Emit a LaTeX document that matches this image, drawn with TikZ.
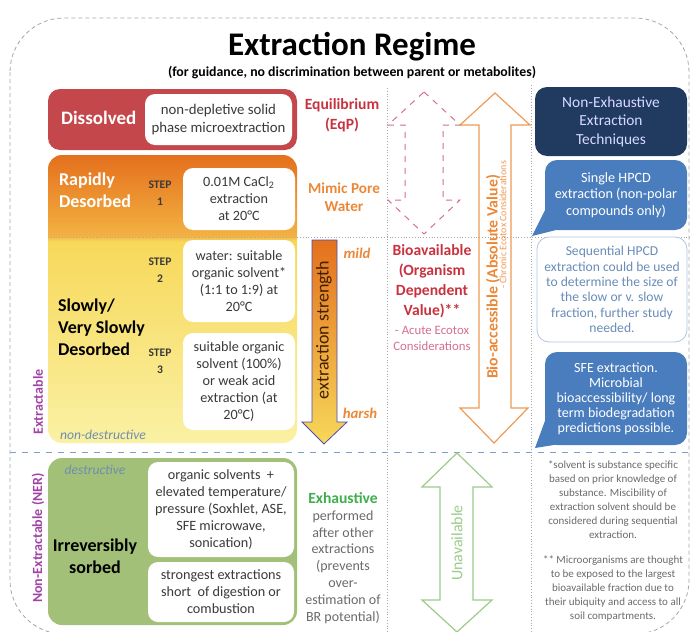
\documentclass[tikz,border=0pt]{standalone}
\usepackage{fontspec}
\setmainfont{Carlito}
\definecolor{dissred}{HTML}{C4474B}
\definecolor{orgdark}{HTML}{E4701D}
\definecolor{orglight}{HTML}{F3B142}
\definecolor{ylwmid}{HTML}{F7D85A}
\definecolor{ylwpale}{HTML}{FAF1A4}
\definecolor{nergreen}{HTML}{A3C079}
\definecolor{txtdark}{HTML}{3A3A3A}
\definecolor{sidepurple}{HTML}{A045A6}
\definecolor{softblue}{HTML}{6F8DB0}
\definecolor{eqred}{HTML}{C8323E}
\definecolor{poreorange}{HTML}{EB8838}
\definecolor{acutepink}{HTML}{D46F8C}
\definecolor{exhgreen}{HTML}{3EAE4C}
\definecolor{notegray}{HTML}{6A6A6A}
\definecolor{bioorange}{HTML}{EE9A55}
\definecolor{unavgreen}{HTML}{9CCB8A}
\definecolor{navy}{HTML}{203A60}
\definecolor{calloutblue}{HTML}{4A7DBE}
\definecolor{seqblue}{HTML}{6A8CB8}
\definecolor{seqedge}{HTML}{B3C5DE}
\definecolor{lineblue}{HTML}{7F9FC8}
\pgfdeclareverticalshading{desorbshade}{100bp}{color(0bp)=(ylwpale); color(25bp)=(ylwpale); color(60bp)=(ylwmid); color(61bp)=(orglight); color(75bp)=(orgdark); color(100bp)=(orgdark)}
\begin{document}
\begin{tikzpicture}[x=0.5pt,y=-0.5pt,
  wbox/.style={fill=white, rounded corners=5pt, align=center, inner sep=0pt, text=txtdark, font=\fontsize{7.1}{8.5}\selectfont},
  steplbl/.style={align=center, text=txtdark, font=\bfseries\fontsize{5.8}{8.5}\selectfont},
  fractionlbl/.style={align=left, anchor=west, font=\bfseries\fontsize{9}{11}\selectfont},
  sidelbl/.style={rotate=90, text=sidepurple, font=\bfseries\fontsize{7}{8}\selectfont},
  regime/.style={align=center, font=\bfseries\fontsize{7.8}{10}\selectfont},
  methodlbl/.style={text=softblue, font=\itshape\fontsize{6.8}{8}\selectfont},
  gridline/.style={gray!70, densely dotted},
  bluebox/.style={fill=calloutblue, rounded corners=6pt, align=center, text=white, inner sep=0pt, font=\fontsize{7.1}{8.2}\selectfont},
  notetext/.style={align=center, text=notegray, font=\fontsize{5.5}{7}\selectfont}]
\useasboundingbox (0,0) rectangle (692,632);

% outer frame
\draw[gray!70, dash pattern=on 2pt off 1.5pt, rounded corners=27pt] (10,18) rectangle (689,634);

\node (title) at (352,47) {\fontsize{16.5}{18}\selectfont\bfseries Extraction Regime};
\node (subtitle) at (352,73) {\fontsize{6.9}{7.5}\selectfont\bfseries (for guidance, no discrimination between parent or metabolites)};

% grid lines
\draw[gridline] (48,237) -- (690,237);
\draw[lineblue, dashed] (10,452) -- (690,452);
\draw[gridline] (387,88) -- (387,632);
\draw[gridline] (531,85) -- (531,632);

% dissolved
\fill[dissred, rounded corners=6pt] (48,89) rectangle (297,150);
\node[fractionlbl, text=white, font=\bfseries\fontsize{9.5}{11}\selectfont] (diss) at (54,118) {Dissolved};
\node[wbox, minimum width=73.5pt, minimum height=25.5pt, font=\fontsize{7.4}{9}\selectfont] (spme) at (218.5,119.5) {non-depletive solid\\phase microextraction};

% rapidly / slowly desorbed
\path[shading=desorbshade, rounded corners=7pt] (48,155) rectangle (297,443);
\draw[gridline] (48,237) -- (297,237);
\node[fractionlbl, text=white] (rapid) at (52,190) {Rapidly\\Desorbed};
\node[steplbl] (s1) at (160,193) {STEP\\1};
\node[wbox, minimum width=56pt, minimum height=31pt] (step1) at (239,199) {0.01M CaCl\textsubscript{2}\\extraction\\at 20°C};
\node[steplbl] (s2) at (160,270) {STEP\\2};
\node[wbox, minimum width=56pt, minimum height=41pt] (step2) at (239,281) {water: suitable\\organic solvent*\\(1:1 to 1:9) at\\20°C};
\node[fractionlbl, text=black] (slow) at (51,327) {Slowly/\\Very Slowly\\Desorbed};
\node[steplbl] (s3) at (160,361) {STEP\\3};
\node[wbox, minimum width=56pt, minimum height=48.5pt] (step3) at (239,381.5) {suitable organic\\solvent (100\%)\\or weak acid\\extraction (at\\20°C)};
\node[methodlbl] (nondest) at (103,435) {non-destructive};

% irreversibly sorbed
\fill[nergreen, rounded corners=7pt] (48,458) rectangle (297,625);
\node[methodlbl] (dest) at (95,470) {destructive};
\node[regime, text=black, font=\bfseries\fontsize{9}{11}\selectfont] (irrev) at (95,556) {Irreversibly\\sorbed};
\node[wbox, minimum width=73pt, minimum height=47.5pt] (ner1) at (221,509.5) {organic solvents\ \ +\\elevated temperature/\\pressure (Soxhlet, ASE,\\SFE microwave,\\sonication)};
\node[wbox, minimum width=73pt, minimum height=30pt] (ner2) at (221,592) {strongest extractions\\short\ \ of digestion or\\combustion};

\node[sidelbl] (extr) at (38,402) {Extractable};
\node[sidelbl] (nonextr) at (38,538) {Non-Extractable (NER)};

% extraction strength
\draw[gray!60!blue, line width=0.4pt, top color=orgdark, bottom color=ylwmid]
  (312,240) -- (337,240) -- (337,422) -- (347,422) -- (324,444) -- (302,422) -- (312,422) -- cycle;
\node[rotate=90, text=black!75!orange, font=\fontsize{9}{10}\selectfont] (strength) at (324,330) {extraction strength};
\node[text=poreorange, font=\itshape\bfseries\fontsize{7.4}{8}\selectfont] (mild) at (357,253) {mild};
\node[text=poreorange, font=\itshape\bfseries\fontsize{7.4}{8}\selectfont] (harsh) at (360,413) {harsh};

\node[regime, text=eqred] (eqp) at (342,115) {Equilibrium\\(EqP)};
\node[regime, text=poreorange, font=\bfseries\fontsize{7.6}{9}\selectfont] (pore) at (344,197) {Mimic Pore\\Water};
\node[regime, text=exhgreen] (exh) at (343,498) {Exhaustive};
\node[align=center, text=notegray, font=\fontsize{7}{8.4}\selectfont] (perf) at (343,567) {performed\\after other\\extractions\\(prevents\\over-\\estimation of\\BR potential)};

% availability arrows
\draw[acutepink, dashed, line width=0.5pt]
  (424,92) -- (460,125) -- (443,125) -- (443,200) -- (460,200) -- (424,234) -- (388,200) -- (405,200) -- (405,125) -- (388,125) -- cycle;
\node[regime, text=eqred] (bioav) at (432,281) {Bioavailable\\(Organism\\Dependent\\Value)**};
\node[align=center, text=acutepink, font=\fontsize{6.4}{8}\selectfont] (acute) at (432,338) {- Acute Ecotox\\Considerations};

\draw[bioorange, line width=0.6pt]
  (495,93) -- (530,125) -- (511,125) -- (511,408) -- (528,408) -- (494,443) -- (460,408) -- (479,408) -- (479,125) -- (460,125) -- cycle;
\node[rotate=90, text=poreorange, font=\bfseries\fontsize{7.9}{9}\selectfont] (bioacc) at (493,277) {Bio-accessible (Absolute Value)};
\node[rotate=90, text=poreorange!85!white, font=\fontsize{5}{6}\selectfont] (chronic) at (503,225) {- Chronic Ecotox Considerations};

\draw[unavgreen, line width=0.6pt]
  (457,453) -- (492,487) -- (473,487) -- (473,600) -- (492,600) -- (457,632) -- (422,600) -- (440,600) -- (440,487) -- (422,487) -- cycle;
\node[rotate=90, text=unavgreen, font=\fontsize{8}{9}\selectfont] (unav) at (457,543) {Unavailable};

% non-exhaustive techniques
\node[fill=navy, rounded corners=6pt, minimum width=76pt, minimum height=34.5pt, inner sep=0pt, align=center, text=white!85!blue, font=\fontsize{7.7}{9.3}\selectfont] (nonexh) at (611,121.5) {Non-Exhaustive\\Extraction\\Techniques};
\fill[calloutblue] (546,208) -- (532,236) -- (560,229) -- cycle;
\node[bluebox, minimum width=71pt, minimum height=35pt] (hpcd) at (616,195) {Single HPCD\\extraction (non-polar\\compounds only)};
\node[draw=seqedge, fill=white, rounded corners=6pt, minimum width=75pt, minimum height=52.5pt, inner sep=0pt, align=center, text=seqblue, font=\fontsize{6.8}{7.7}\selectfont] (seq) at (612,289.5) {Sequential HPCD\\extraction could be used\\to determine the size of\\the slow or v. slow\\fraction, further study\\needed.};
\fill[calloutblue] (546,418) -- (535,448) -- (560,444) -- cycle;
\node[bluebox, minimum width=71pt, minimum height=46.5pt, font=\fontsize{7}{7.5}\selectfont] (sfe) at (616,398.5) {SFE extraction.\\Microbial\\bioaccessibility/ long\\term biodegradation\\predictions possible.};

\node[notetext] (note1) at (613,500) {*solvent is substance specific\\based on prior knowledge of\\substance. Miscibility of\\extraction solvent should be\\considered during sequential\\extraction.};
\node[notetext] (note2) at (613,588.5) {** Microorganisms are thought\\to be exposed to the largest\\bioavailable fraction due to\\their ubiquity and access to all\\soil compartments.};
\end{tikzpicture}
\end{document}
